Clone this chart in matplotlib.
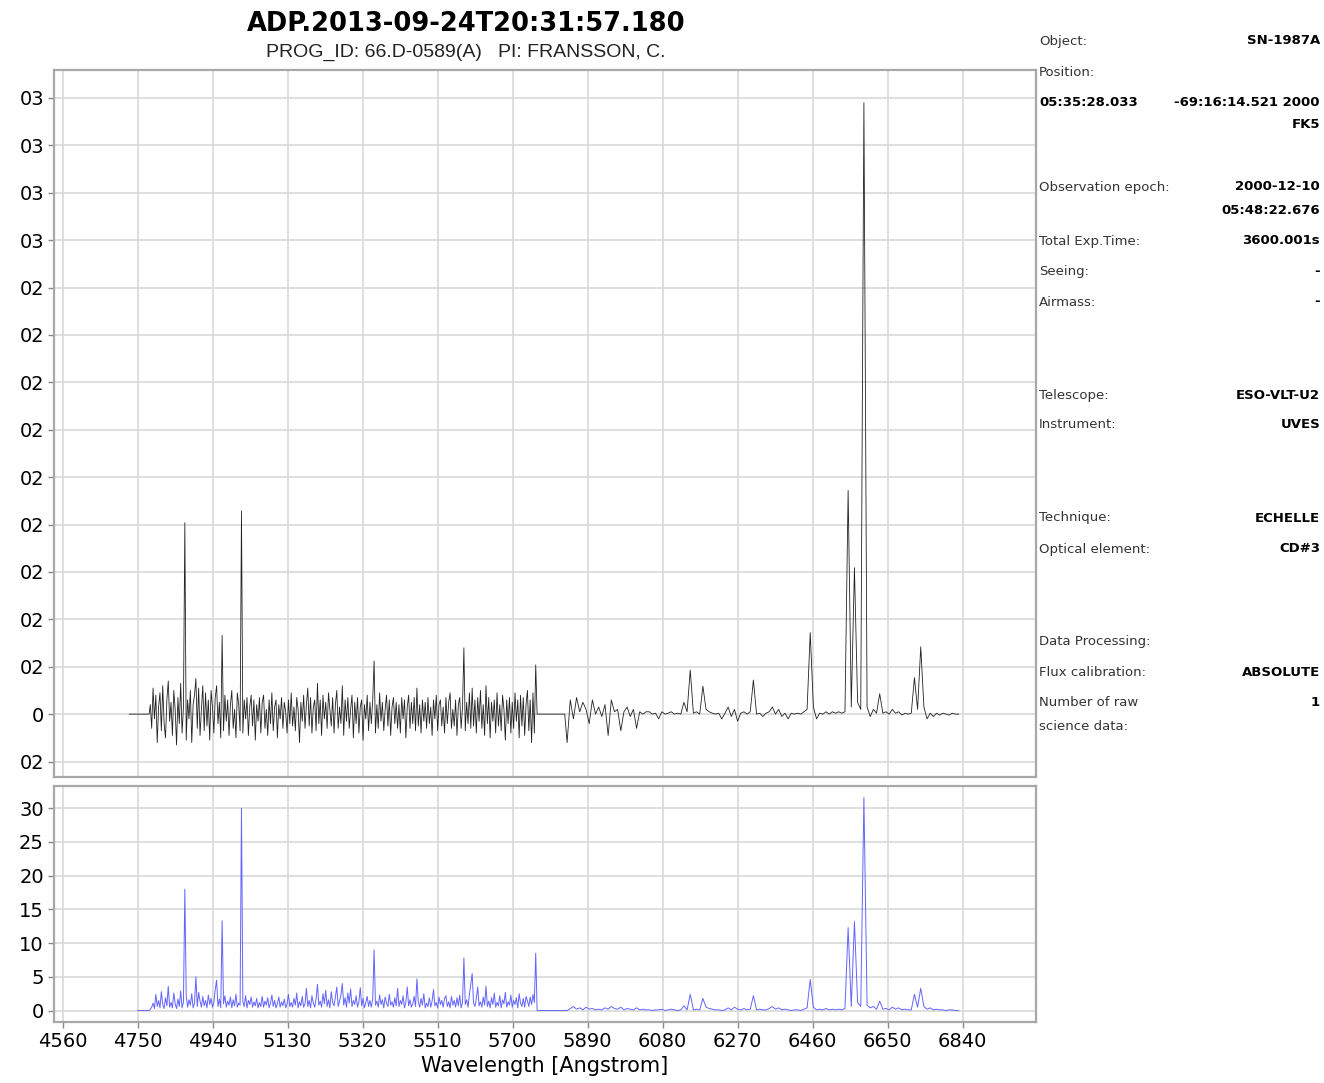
import numpy as np
import matplotlib
matplotlib.use('Agg')
import matplotlib.pyplot as plt
from matplotlib.ticker import FixedLocator, FixedFormatter

# grade de comprimento de onda (Angstrom) dos dois trechos com sinal
left_w0, left_step, left_n = 4782, 3.5, 280
right_w0, right_step, right_n = 5838, 8, 125
gap_w = [5762, 5832]
flux_start = 4729
snr_start = 4750

# fluxo (painel de cima), em unidades de tick
flux_left = [
    0.2, -0.3, 0.55, -0.1, 0.4, -0.6, 0.15, 0.45, -0.35, 0.6, -0.2, -0.5, 0.3, 0.7, -0.15, 0.25, -0.45, 0.5, 0.1, -0.65,
    0.35, -0.2, 0.65, -0.4, 0.15, 4.04, -0.55, 0.3, -0.1, 0.5, -0.6, 0.2, 0.4, 0.75, -0.3, 0.55, -0.45, 0.1, 0.6, -0.35,
    0.45, -0.25, 0.3, -0.55, 0.5, 0.15, -0.4, 0.35, 0.6, -0.2, 0.25, -0.5, 1.66, -0.35, 0.4, -0.15, 0.3, -0.45, 0.2, 0.5,
    -0.3, 0.1, -0.5, 0.45, 0.2, -0.35, 4.29, -0.4, 0.3, -0.1, 0.35, -0.45, 0.15, 0.4, -0.25, 0.3, -0.55, 0.2, -0.15, 0.35,
    -0.4, 0.25, 0.4, -0.3, 0.1, -0.45, 0.3, -0.2, 0.45, -0.35, 0.15, 0.3, -0.5, 0.2, -0.1, 0.35, -0.3, 0.25, 0.05, -0.4,
    0.3, -0.2, 0.45, -0.25, 0.15, -0.35, 0.35, 0.1, -0.6, 0.25, -0.15, 0.4, -0.3, 0.2, 0.55, -0.25, 0.35, -0.4, 0.15, 0.3,
    -0.35, 0.65, -0.2, 0.3, -0.45, 0.4, -0.1, 0.25, -0.3, 0.45, 0.1, -0.25, 0.35, -0.4, 0.2, 0.5, -0.3, 0.15, -0.2, 0.6,
    -0.45, 0.3, -0.15, 0.35, -0.3, 0.1, 0.4, -0.5, 0.25, -0.2, 0.35, -0.4, 0.15, 0.3, -0.55, 0.2, -0.1, 0.4, -0.35, 0.25,
    -0.2, 0.3, 1.12, -0.4, 0.2, -0.3, 0.45, -0.15, 0.25, -0.35, 0.1, 0.4, -0.25, 0.3, -0.45, 0.15, 0.35, -0.2, 0.25, -0.3,
    0.2, -0.4, 0.35, -0.1, 0.3, -0.5, 0.15, 0.4, -0.3, 0.25, -0.2, 0.35, -0.35, 0.55, -0.25, 0.2, -0.4, 0.3, -0.15, 0.25,
    -0.3, 0.35, -0.2, 0.15, -0.45, 0.3, -0.1, 0.4, -0.35, 0.2, 0.3, -0.25, 0.15, -0.4, 0.35, -0.2, 0.25, 0.45, -0.3, 0.1,
    -0.25, 0.3, -0.45, 0.2, 0.35, -0.3, 0.15, 1.4, -0.35, 0.25, -0.2, 0.45, -0.3, 0.55, -0.25, 0.3, -0.4, 0.35, -0.15, 0.5,
    -0.3, 0.2, -0.45, 0.6, -0.2, 0.35, -0.5, 0.25, -0.15, 0.3, -0.4, 0.45, -0.25, 0.2, -0.35, 0.4, 0.1, -0.55, 0.3, -0.2,
    0.35, -0.4, 0.25, -0.3, 0.45, -0.15, 0.3, -0.5, 0.4, -0.25, 0.35, -0.45, 0.2, 0.5, -0.35, 0.3, -0.6, 0.45, -0.4, 1.04,
]
flux_right = [
    -0.6, 0.3, -0.1, 0.35, 0.05, 0.25, 0.1, -0.2, 0.3, 0.0, 0.15, -0.05, 0.2,
    -0.45, 0.3, 0.05, 0.1, -0.35, 0.05, 0.15, -0.05, 0.1, -0.3, 0.05, 0.0, 0.05,
    0.05, 0.0, 0.02, -0.1, 0.05, 0.0, 0.02, 0.05, 0.0, 0.02, 0.0, 0.25, 0.05,
    0.93, 0.02, 0.05, 0.0, 0.59, 0.1, 0.05, 0.02, 0.0, 0.02, -0.1, 0.02,
    0.15, -0.05, 0.1, -0.15, 0.02, 0.05, 0.0, 0.05, 0.72, 0.0, 0.02, -0.05, 0.02,
    0.05, 0.15, 0.0, 0.1, -0.05, 0.02, -0.1, 0.02, 0.0, 0.02, 0.0, 0.05, 0.1,
    1.72, 0.15, -0.1, 0.02, 0.0, 0.05, 0.0, 0.05, 0.02, 0.05, 0.02, 0.05,
    4.72, 0.15, 3.09, 0.25, 0.1, 12.9, 0.15, -0.05, 0.1, 0.02, 0.43, 0.02,
    0.05, 0.0, 0.1, 0.02, 0.05, -0.02, 0.02, 0.0, 0.02,
    0.77, 0.1, 1.42, 0.15, -0.1, 0.02, -0.05, 0.02, -0.02, 0.02, 0.0, -0.02, 0.02, 0.0, 0.0,
]

# painel de baixo (azul)
snr_left = [
    0.2, 0.5, 1.1, 0.3, 2.4, 0.6, 1.5, 0.4, 2.8, 0.9, 0.3, 1.9, 0.7, 3.6, 0.5, 1.2, 0.4, 2.6, 1.0, 0.3,
    1.7, 0.6, 2.9, 0.4, 1.3, 18.0, 2.2, 0.5, 1.6, 0.8, 2.5, 0.4, 1.1, 5.0, 0.6, 2.7, 1.4, 0.5, 2.1, 0.7,
    1.5, 0.4, 2.3, 0.9, 1.8, 0.5, 1.2, 3.1, 4.5, 0.6, 1.7, 0.4, 13.3, 1.0, 2.2, 0.5, 1.4, 0.8, 2.0, 0.4,
    1.6, 0.7, 2.4, 0.5, 1.1, 0.8, 30.0, 1.3, 0.6, 2.2, 0.4, 1.5, 0.9, 2.0, 0.5, 1.3, 0.7, 1.8, 0.4, 1.2,
    0.6, 2.1, 0.5, 1.4, 0.8, 1.9, 0.4, 1.1, 2.3, 0.6, 1.5, 0.4, 1.0, 2.0, 0.5, 1.3, 0.7, 1.7, 0.4, 1.0,
    2.4, 0.6, 1.2, 0.5, 1.8, 0.8, 2.6, 0.4, 1.3, 0.7, 2.1, 0.5, 1.0, 3.3, 0.6, 1.5, 0.4, 2.2, 1.1, 0.5,
    1.7, 3.9, 0.8, 1.4, 0.5, 2.5, 1.0, 3.0, 0.6, 1.6, 0.4, 2.8, 1.2, 0.7, 2.0, 3.5, 0.6, 1.4, 2.3, 4.0,
    0.8, 1.9, 0.5, 2.6, 1.1, 3.2, 0.6, 1.5, 0.9, 2.2, 0.5, 1.3, 3.4, 0.7, 1.8, 0.4, 1.2, 2.1, 0.6, 1.5,
    0.5, 1.7, 9.0, 0.8, 1.4, 0.5, 2.3, 0.9, 1.6, 0.4, 2.0, 1.1, 0.6, 2.4, 0.8, 1.3, 0.5, 1.9, 0.7, 3.3,
    0.6, 1.5, 0.9, 2.2, 0.4, 1.2, 3.5, 0.7, 1.6, 0.5, 1.0, 2.1, 0.6, 4.7, 1.3, 0.5, 1.8, 0.8, 2.5, 0.4,
    1.1, 0.6, 1.9, 0.5, 1.4, 3.1, 0.7, 1.2, 0.4, 2.0, 0.9, 1.5, 0.5, 1.8, 2.2, 0.6, 1.3, 0.4, 2.1, 0.8,
    1.5, 0.5, 1.9, 0.7, 2.3, 0.4, 1.2, 7.8, 0.9, 1.6, 0.5, 2.4, 4.0, 5.5, 1.1, 0.6, 1.8, 3.5, 0.7, 1.3,
    0.5, 2.0, 0.8, 3.6, 0.6, 1.4, 0.4, 1.9, 0.9, 2.6, 0.5, 1.2, 0.7, 2.2, 0.4, 1.6, 1.0, 2.7, 0.5, 1.3,
    0.8, 2.3, 0.5, 1.5, 0.9, 1.9, 0.4, 2.5, 1.1, 0.6, 1.8, 0.5, 2.1, 1.4, 0.6, 2.0, 0.9, 2.4, 1.2, 8.5,
]
snr_right = [
    0.0, 0.3, 0.6, 0.2, 0.4, 0.1, 0.5, 0.2, 0.3, 0.1, 0.2, 0.1, 0.4,
    0.2, 0.6, 0.3, 0.2, 0.5, 0.1, 0.3, 0.2, 0.1, 0.4, 0.1, 0.2, 0.1,
    0.1, 0.0, 0.1, 0.1, 0.2, 0.0, 0.1, 0.2, 0.1, 0.0, 0.1, 0.7, 0.1,
    2.4, 0.1, 0.2, 0.1, 1.8, 0.5, 0.3, 0.2, 0.1, 0.1, 0.0, 0.1,
    0.4, 0.1, 0.5, 0.2, 0.1, 0.3, 0.1, 0.2, 2.2, 0.1, 0.2, 0.1, 0.1,
    0.3, 0.6, 0.2, 0.4, 0.1, 0.2, 0.1, 0.0, 0.1, 0.1, 0.0, 0.2, 0.4,
    4.6, 0.5, 0.1, 0.2, 0.1, 0.3, 0.1, 0.2, 0.1, 0.2, 0.1, 0.3,
    12.3, 0.6, 13.2, 1.2, 0.6, 31.6, 0.8, 0.4, 0.6, 0.2, 1.4, 0.2,
    0.3, 0.1, 0.5, 0.2, 0.4, 0.1, 0.2, 0.1, 0.1,
    2.4, 0.5, 3.3, 0.6, 0.2, 0.4, 0.1, 0.2, 0.1, 0.1, 0.0, 0.1, 0.1, 0.0, 0.0,
]

xtick_vals = [4560, 4750, 4940, 5130, 5320, 5510, 5700, 5890, 6080, 6270, 6460, 6650, 6840]
top_ytick_vals = list(range(-1, 14))
top_ytick_labels = ['02', '0'] + ['02'] * 9 + ['03'] * 4
bot_ytick_vals = [0, 5, 10, 15, 20, 25, 30]

title = 'ADP.2013-09-24T20:31:57.180'
subtitle = 'PROG_ID: 66.D-0589(A)   PI: FRANSSON, C.'

# painel de informações: (y em px, rótulo, valor)
info_rows = [
    (41, 'Object:', 'SN-1987A'),
    (72, 'Position:', ''),
    (102, '', '-69:16:14.521 2000'),
    (125, '', 'FK5'),
    (187, 'Observation epoch:', '2000-12-10'),
    (210, '', '05:48:22.676'),
    (241, 'Total Exp.Time:', '3600.001s'),
    (272, 'Seeing:', '-'),
    (302, 'Airmass:', '-'),
    (395, 'Telescope:', 'ESO-VLT-U2'),
    (425, 'Instrument:', 'UVES'),
    (518, 'Technique:', 'ECHELLE'),
    (549, 'Optical element:', 'CD#3'),
    (641, 'Data Processing:', ''),
    (672, 'Flux calibration:', 'ABSOLUTE'),
    (703, 'Number of raw', '1'),
    (726, 'science data:', ''),
]
ra_text = '05:35:28.033'

#montando os vetores completos
w_left = left_w0 + left_step * np.arange(left_n)
w_right = right_w0 + right_step * np.arange(right_n)
wl_top = np.concatenate([[flux_start, left_w0 - 3], w_left, gap_w, w_right])
fl_top = np.concatenate([[0, 0], flux_left, [0, 0], flux_right])
wl_bot = np.concatenate([[snr_start, left_w0 - 3], w_left, gap_w, w_right])
fl_bot = np.concatenate([[0, 0], snr_left, [0, 0], snr_right])

W, H = 1324, 1083
fig = plt.figure(figsize=(W / 100, H / 100), dpi=100)
fig.patch.set_facecolor('white')

ax1 = fig.add_axes([53.6 / W, 1 - 776.7 / H, (1036 - 53.6) / W, (776.7 - 70) / H])
ax2 = fig.add_axes([53.6 / W, 1 - 1022 / H, (1036 - 53.6) / W, (1022 - 786) / H])

spine_col = '#a8a8a8'
grid_col = '#d6d6d6'
for ax in (ax1, ax2):
    ax.set_xlim(4537, 7026)
    ax.xaxis.set_major_locator(FixedLocator(xtick_vals))
    ax.grid(True, color=grid_col, lw=1.1)
    ax.set_axisbelow(True)
    for s in ax.spines.values():
        s.set_color(spine_col)
        s.set_linewidth(1.6)
    ax.tick_params(length=4, width=1, color='#888888', labelsize=14, pad=3)

ax1.plot(wl_top, fl_top, color='#222222', lw=0.6)
ax1.set_ylim(-1.32, 13.59)
ax1.yaxis.set_major_locator(FixedLocator(top_ytick_vals))
ax1.yaxis.set_major_formatter(FixedFormatter(top_ytick_labels))
ax1.tick_params(axis='x', labelbottom=False, length=0)

ax2.plot(wl_bot, fl_bot, color='#6464ff', lw=0.7)
ax2.set_ylim(-1.7, 33.3)
ax2.yaxis.set_major_locator(FixedLocator(bot_ytick_vals))
ax2.xaxis.set_major_formatter(FixedFormatter([str(v) for v in xtick_vals]))
ax2.set_xlabel('Wavelength [Angstrom]', fontsize=15, labelpad=4)

fig.text(466 / W, 1 - 24 / H, title, ha='center', va='center', fontsize=18.5, fontweight='bold')
fig.text(466 / W, 1 - 52 / H, subtitle, ha='center', va='center', fontsize=14,
         family='Liberation Sans', color='#222222')

xl = 1039 / W
xr = 1320 / W
for y, lab, val in info_rows:
    if lab:
        fig.text(xl, 1 - y / H, lab, ha='left', va='center', fontsize=9.5, color='#333333')
    if val:
        fig.text(xr, 1 - y / H, val, ha='right', va='center', fontsize=9.5, fontweight='bold')
fig.text(xl, 1 - 102 / H, ra_text, ha='left', va='center', fontsize=9.5, fontweight='bold')

fig.savefig('out.png', dpi=100)
